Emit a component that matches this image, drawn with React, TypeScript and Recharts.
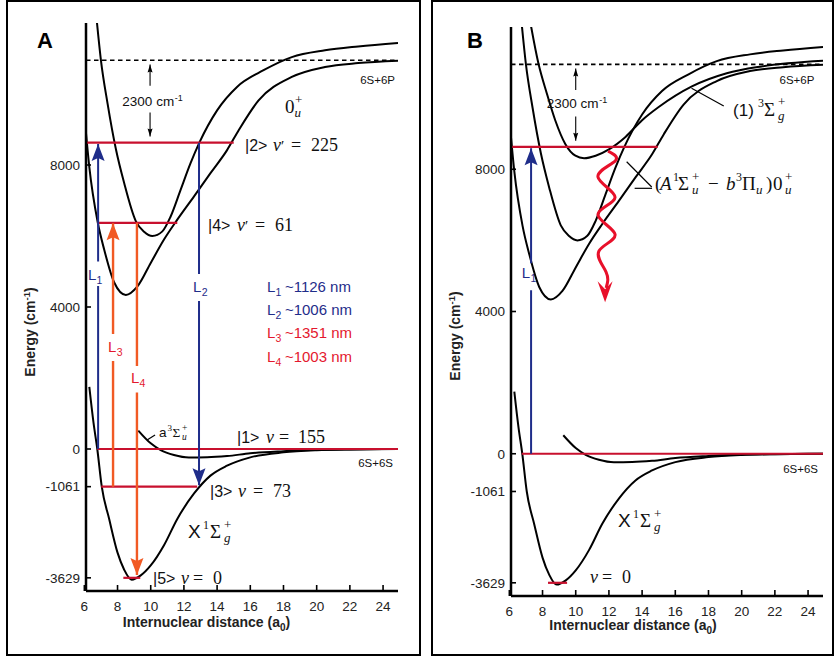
import React from 'react';
import { LineChart, Line, XAxis, YAxis, ReferenceDot, ReferenceLine } from 'recharts';

const SANS = "'Liberation Sans', Arial, Helvetica, sans-serif";
const SERIF = "'Liberation Serif', 'Times New Roman', serif";
const BLUE = '#1f2d8a';
const ORANGE = '#f15a24';
const CRIMSON = '#c8102e';
const RED = '#e4182e';
const WAVE = '#e8102a';

// ---- axes ----
const X_TICKS = [6, 8, 10, 12, 14, 16, 18, 20, 22, 24];
const Y_TICKS = [-3629, -1061, 0, 4000, 8000];
const X_DOMAIN: [number, number] = [6.1, 24.9];
const Y_DOMAIN: [number, number] = [-4000, 12000];

// ---- potential curves [R (a0), E (cm-1)] ----
const X_STATE = [
  [6.3, 1750], [6.55, 750], [6.78, 0], [7.05, -1061], [7.5, -1980], [8.0, -2920], [8.4, -3400],
  [8.85, -3680], [9.4, -3560], [10.0, -3280], [10.8, -2710], [11.6, -1970], [12.6, -1260],
  [13.6, -750], [14.6, -470], [16.0, -235], [18.0, -95], [20.0, -35], [22.0, -12], [24.9, 0],
];
const A3_STATE = [
  [9.25, 520], [10.0, 160], [10.6, -30], [11.4, -170], [12.3, -240], [13.4, -235], [14.6, -200],
  [16.0, -120], [18.0, -60], [20.0, -20], [24.9, 0],
];
const OU_LOWER = [
  [6.1, 8900], [6.3, 7940], [6.8, 6400], [7.2, 5610], [7.8, 4690], [8.5, 4340], [9.2, 4580],
  [10.0, 5240], [10.8, 5900], [11.6, 6460], [12.6, 7110], [13.6, 7770], [14.6, 8420], [15.3, 8980],
  [16.5, 9820], [18.5, 10480], [20.5, 10760], [22.5, 10870], [24.9, 10935],
];
const OU_UPPER = [
  [6.7, 12300], [7.0, 10950], [7.4, 9730], [7.9, 8450], [8.4, 7490], [9.1, 6420], [9.6, 6120],
  [10.1, 6000], [10.7, 6130], [11.2, 6550], [11.8, 7300], [12.4, 8050], [12.93, 8630], [14.0, 9540],
  [15.2, 10200], [16.8, 10670], [18.5, 11040], [20.5, 11230], [22.5, 11340], [24.9, 11440],
];
const SIGMA_G = [
  [7.2, 12300], [7.75, 10980], [8.26, 10130], [8.77, 9370], [9.37, 8710], [9.98, 8380], [10.5, 8310],
  [11.2, 8380], [12.0, 8560], [13.0, 8910], [14.0, 9380], [15.0, 9750], [17.0, 10330], [19.1, 10700],
  [21.2, 10890], [24.9, 11050],
];
const ASYMPTOTE_6P = 10950;

// ---- vibrational levels [R start, R end, E] ----
const LEVELS_A = [[6.15, 15.0, 8630], [6.78, 11.6, 6370], [6.78, 24.9, 0], [7.02, 12.8, -1061], [8.35, 9.37, -3629]];
const LEVELS_B = [[6.16, 14.94, 8630], [6.75, 24.9, 0], [8.33, 9.48, -3629]];

// ---- transitions: R, E from, E to, label gap ----
const ARROWS_A = [
  { id: 'L1', r: 6.83, from: 0, to: 8590, gap: [4590, 5280] },
  { id: 'L3', r: 7.73, from: -1061, to: 6360, gap: [2480, 3240] },
  { id: 'L4', r: 9.17, from: 6370, to: -3550, gap: [1590, 2340] },
  { id: 'L2', r: 12.91, from: 8630, to: -1020, gap: [4170, 4930] },
];
const ARROWS_B = [{ id: 'L1', r: 7.31, from: 0, to: 8590, gap: [4600, 5360] }];
const GAP_ARROWS_A = [{ r: 9.96, from: 10230, to: 10830 }, { r: 9.96, from: 9480, to: 8800 }];
const GAP_ARROWS_B = [{ r: 10.0, from: 10230, to: 10830 }, { r: 10.0, from: 9480, to: 8800 }];
const DECAY_WAVE = [
  [11.95, 8510], [12.37, 8230], [11.34, 7780], [12.37, 7210], [11.34, 6730], [12.37, 6170],
  [11.4, 5700], [11.83, 5110], [11.83, 4660], [11.77, 4260],
];
const LEADER_A3 = [[10.26, 394], [9.78, 254]];
const LEADER_SIGMA = [[18.92, 9778], [16.98, 10276]];
const LEADER_OU = [[13.07, 8212], [14.58, 7500]];
const LEADER_OU_BAR = [[13.55, 7464], [14.6, 7464]];

const LEGEND = [
  { n: '1', text: '~1126 nm', kind: 'blue' },
  { n: '2', text: '~1006 nm', kind: 'blue' },
  { n: '3', text: '~1351 nm', kind: 'red' },
  { n: '4', text: '~1003 nm', kind: 'red' },
];
const LEGEND_E = [4423, 3775, 3127, 2451];

const toPts = (a: number[][]) => a.map(([r, e]) => ({ r, e }));

type Piece = { t: string; x: number; y?: number; s: number; f?: string; i?: boolean; c?: string; a?: string };

const Rich = ({ cx, cy, pieces, color }: any) => (
  <g>
    {pieces.map((p: Piece, k: number) => (
      <text
        key={k}
        x={cx + p.x}
        y={cy + (p.y || 0)}
        fontSize={p.s}
        fontFamily={p.f === 'serif' ? SERIF : SANS}
        fontStyle={p.i ? 'italic' : 'normal'}
        fill={p.c || color || '#111'}
        textAnchor={(p.a as any) || 'start'}
      >
        {p.t}
      </text>
    ))}
  </g>
);

const note = (key: string, r: number, e: number, pieces: Piece[], color?: string) => (
  <ReferenceDot
    key={key}
    x={r}
    y={e}
    r={0}
    ifOverflow="visible"
    shape={(p: any) => <Rich cx={p.cx} cy={p.cy} pieces={pieces} color={color} />}
  />
);

const Head = ({ cx, cy, up, color, w, l, notch }: any) => {
  const s = up ? 1 : -1;
  return (
    <path
      d={`M${cx},${cy}L${cx - w / 2},${cy + s * l}L${cx},${cy + s * (l - notch)}L${cx + w / 2},${cy + s * l}Z`}
      fill={color}
      stroke="none"
    />
  );
};

// arrowhead drawn at a data point (tip), pointing up or down
const headAt = (key: string, rr: number, e: number, up: boolean, color: string, w: number, l: number, notch: number) => (
  <ReferenceDot
    key={key}
    x={rr}
    y={e}
    r={0}
    ifOverflow="visible"
    shape={(p: any) => <Head cx={p.cx} cy={p.cy} up={up} color={color} w={w} l={l} notch={notch} />}
  />
);

const ket = (n: string, prime: boolean, val: string, o: number[]): Piece[] => {
  const out: Piece[] = [
    { t: `|${n}>`, x: 0, s: 16 },
    { t: 'v', x: o[0], s: 18, f: 'serif', i: true },
  ];
  if (prime) out.push({ t: '\u2032', x: o[0] + 8, s: 15, f: 'serif' });
  out.push({ t: '=', x: o[1], s: 18, f: 'serif' });
  out.push({ t: val, x: o[2], s: 18, f: 'serif' });
  return out;
};

const lLabel = (n: string): Piece[] => [
  { t: 'L', x: 0, s: 15 },
  { t: n, x: 8.6, y: 4, s: 10.5 },
];

const arrowPts = (a: { r: number; from: number; to: number; gap?: number[] }) => {
  const up = a.to > a.from;
  const pts: any[] = [{ r: a.r, e: a.from }];
  if (a.gap) {
    const [lo, hi] = a.gap;
    pts.push({ r: a.r, e: up ? lo : hi }, { r: a.r, e: null }, { r: a.r, e: up ? hi : lo });
  }
  pts.push({ r: a.r, e: a.to });
  return pts;
};

const AXIS = { stroke: '#000', strokeWidth: 2.5 };
const TICKLINE = { stroke: '#000', strokeWidth: 1.6 };
const TICK = { fill: '#222', fontSize: 13.5, fontFamily: SANS };

const curve = (key: string, pts: number[][]) => (
  <Line key={key} data={toPts(pts)} dataKey="e" type="monotoneX" stroke="#000" strokeWidth={2}
    dot={false} activeDot={false} isAnimationActive={false} />
);
const thin = (key: string, pts: number[][], w = 1.2) => (
  <Line key={key} data={toPts(pts)} dataKey="e" type="linear" stroke="#000" strokeWidth={w}
    dot={false} activeDot={false} isAnimationActive={false} />
);
const level = (key: string, lv: number[]) => (
  <Line key={key} data={[{ r: lv[0], e: lv[2] }, { r: lv[1], e: lv[2] }]} dataKey="e" type="linear"
    stroke={CRIMSON} strokeWidth={2.2} dot={false} activeDot={false} isAnimationActive={false} />
);
const arrowShaft = (key: string, a: any, color: string, width: number) => (
  <Line key={key} data={arrowPts(a)} dataKey="e" type="linear" stroke={color} strokeWidth={width}
    connectNulls={false} dot={false} activeDot={false} isAnimationActive={false} />
);

function Panel({ variant }: { variant: 'A' | 'B' }) {
  const isA = variant === 'A';
  const width = isA ? 420 : 410;
  const margin = isA
    ? { top: 23, right: 22, bottom: 37, left: 26 }
    : { top: 27, right: 12, bottom: 32, left: 26 };
  const levels = isA ? LEVELS_A : LEVELS_B;
  const arrows = isA ? ARROWS_A : ARROWS_B;
  const gapArrows = isA ? GAP_ARROWS_A : GAP_ARROWS_B;
  const isBlue = (id: string) => id === 'L1' || id === 'L2';

  const labelPosA: Record<string, number[]> = { L1: [6.22, 4761], L2: [12.55, 4423], L3: [7.43, 2732], L4: [8.81, 1859] };
  const labelPosB: Record<string, number[]> = { L1: [6.75, 4942] };
  const labelPos = isA ? labelPosA : labelPosB;
  const waveEnd = DECAY_WAVE[DECAY_WAVE.length - 1];

  return (
    <LineChart width={width} height={658} margin={margin}>
      <XAxis dataKey="r" type="number" domain={X_DOMAIN} ticks={X_TICKS} allowDataOverflow interval={0}
        height={30} tickSize={-6} tickMargin={16} axisLine={AXIS} tickLine={TICKLINE} tick={TICK} />
      <XAxis xAxisId="top" orientation="top" dataKey="r" type="number" domain={X_DOMAIN} ticks={X_TICKS}
        allowDataOverflow interval={0} height={0} tickSize={-6} tickFormatter={() => ''} axisLine={AXIS}
        tickLine={TICKLINE} />
      <YAxis type="number" domain={Y_DOMAIN} ticks={Y_TICKS} allowDataOverflow interval={0} width={60}
        tickSize={-5} tickMargin={11} axisLine={AXIS} tickLine={TICKLINE} tick={TICK} />
      <YAxis yAxisId="right" orientation="right" type="number" domain={Y_DOMAIN} ticks={Y_TICKS}
        allowDataOverflow interval={0} width={0} tickSize={-5} tickFormatter={() => ''} axisLine={AXIS}
        tickLine={TICKLINE} />

      <ReferenceLine y={ASYMPTOTE_6P} stroke="#000" strokeWidth={1.6} strokeDasharray="4.5 3.5" />

      {curve('x', X_STATE)}
      {curve('a3', A3_STATE)}
      {curve('ou1', OU_LOWER)}
      {curve('ou2', OU_UPPER)}
      {!isA && curve('sg', SIGMA_G)}

      {levels.map((lv, i) => level(`lv${i}`, lv))}

      {arrows.map((a) => arrowShaft(`ar${a.id}`, a, isBlue(a.id) ? BLUE : ORANGE, isBlue(a.id) ? 2 : 2.4))}
      {gapArrows.map((a, i) => arrowShaft(`g${i}`, a, '#000', 1.1))}

      {isA && thin('lda', LEADER_A3)}
      {!isA && thin('lds', LEADER_SIGMA)}
      {!isA && thin('ldo', LEADER_OU)}
      {!isA && thin('ldb', LEADER_OU_BAR)}

      {!isA && (
        <Line key="wave" data={toPts(DECAY_WAVE.slice(0, DECAY_WAVE.length - 1))} dataKey="e" type="natural"
          stroke={WAVE} strokeWidth={3} dot={false} activeDot={false} isAnimationActive={false} />
      )}

      {arrows.map((a) => headAt(`hd${a.id}`, a.r, a.to, a.to > a.from, isBlue(a.id) ? BLUE : ORANGE, 13, 17, 3))}
      {gapArrows.map((a, i) => headAt(`hg${i}`, a.r, a.to, a.to > a.from, '#000', 5, 8, 1))}
      {!isA && headAt('hw', waveEnd[0], waveEnd[1], false, WAVE, 15, 21, 8)}

      {arrows.map((a) => note(`lab${a.id}`, labelPos[a.id][0], labelPos[a.id][1], lLabel(a.id.slice(1)), isBlue(a.id) ? BLUE : RED))}

      {note('n2300', isA ? 8.29 : 8.25, isA ? 9648 : 9722, [
        { t: '2300 cm', x: 0, s: 13.5 },
        { t: '-1', x: 52.5, y: -5.5, s: 9 },
      ])}
      {note('n6p', isA ? 24.72 : 24.38, isA ? 10280 : 10397, [{ t: '6S+6P', x: 0, s: 11.5, a: 'end' }])}
      {note('n6s', 24.6, isA ? -507 : -541, [{ t: '6S+6S', x: 0, s: 11.5, a: 'end' }])}
      {note('nX', isA ? 12.25 : 12.55, isA ? -2510 : -2060, [
        { t: 'X', x: 0, s: 19 },
        { t: '1', x: 15, y: -9, s: 12, f: 'serif' },
        { t: '\u03A3', x: 22, s: 19, f: 'serif' },
        { t: '+', x: 36, y: -9, s: 13, f: 'serif' },
        { t: 'g', x: 36, y: 4, s: 13, f: 'serif', i: true },
      ])}

      {isA && note('k2', 15.68, 8390, ket('2', true, '225', [28, 46, 66]))}
      {isA && note('k4', 13.45, 6140, ket('4', true, '61', [29, 47, 67]))}
      {isA && note('k1', 15.2, 170, ket('1', false, '155', [29, 42, 61]))}
      {isA && note('k3', 13.57, -1350, ket('3', false, '73', [28, 43, 63]))}
      {isA && note('k5', 10.14, -3800, ket('5', false, '0', [28, 40, 60]))}
      {!isA && note('v0', 10.86, -3634, [
        { t: 'v', x: 0, s: 18, f: 'serif', i: true },
        { t: '=', x: 12, s: 18, f: 'serif' },
        { t: '0', x: 32, s: 18, f: 'serif' },
      ])}
      {isA && note('ou', 18.09, 9465, [
        { t: '0', x: 0, s: 19, f: 'serif' },
        { t: '+', x: 10, y: -9, s: 13, f: 'serif' },
        { t: 'u', x: 9.5, y: 4, s: 13, f: 'serif', i: true },
      ])}
      {isA && note('a3', 10.5, 340, [
        { t: 'a', x: 0, s: 13.5 },
        { t: '3', x: 8.5, y: -6, s: 9, f: 'serif' },
        { t: '\u03A3', x: 13.5, s: 13.5, f: 'serif' },
        { t: '+', x: 23, y: -6, s: 9.5, f: 'serif' },
        { t: 'u', x: 23, y: 3, s: 9.5, f: 'serif', i: true },
      ])}
      {isA && LEGEND.map((g, i) =>
        note(`lg${i}`, 17.0, LEGEND_E[i], [...lLabel(g.n), { t: g.text, x: 18, s: 15 }], g.kind === 'blue' ? BLUE : RED))}

      {!isA && note('sg', 19.48, 9497, [
        { t: '(1)', x: 0, s: 17 },
        { t: '3', x: 25, y: -9, s: 12, f: 'serif' },
        { t: '\u03A3', x: 31, s: 19, f: 'serif' },
        { t: '+', x: 45, y: -10, s: 13, f: 'serif' },
        { t: 'g', x: 45, y: 4, s: 13, f: 'serif', i: true },
      ])}
      {!isA && note('ab', 14.78, 7416, [
        { t: '(', x: 0, s: 19, f: 'serif' },
        { t: 'A', x: 5, s: 19, f: 'serif', i: true },
        { t: '1', x: 18, y: -9, s: 12, f: 'serif' },
        { t: '\u03A3', x: 23, s: 19, f: 'serif' },
        { t: '+', x: 37, y: -9, s: 13, f: 'serif' },
        { t: 'u', x: 37, y: 4, s: 13, f: 'serif', i: true },
        { t: '\u2212', x: 53, s: 19, f: 'serif' },
        { t: 'b', x: 71, s: 19, f: 'serif', i: true },
        { t: '3', x: 81, y: -9, s: 12, f: 'serif' },
        { t: '\u03A0', x: 87, s: 19, f: 'serif' },
        { t: 'u', x: 101, y: 4, s: 13, f: 'serif', i: true },
        { t: ')', x: 111, s: 19, f: 'serif' },
        { t: '0', x: 118, s: 19, f: 'serif' },
        { t: '+', x: 130, y: -9, s: 13, f: 'serif' },
        { t: 'u', x: 130, y: 4, s: 13, f: 'serif', i: true },
      ])}
    </LineChart>
  );
}

export default function App() {
  return (
    <div style={{ position: 'absolute', left: 0, top: 0, width: 835, height: 658, background: '#fff', overflow: 'hidden' }}>
      <div style={{ position: 'absolute', left: 0, top: 0 }}>
        <Panel variant="A" />
      </div>
      <div style={{ position: 'absolute', left: 425, top: 0 }}>
        <Panel variant="B" />
      </div>
      <svg width={835} height={658} style={{ position: 'absolute', left: 0, top: 0, pointerEvents: 'none' }}>
        <rect x={7} y={1} width={413} height={654} fill="none" stroke="#000" strokeWidth={2} />
        <rect x={432} y={1} width={401} height={654} fill="none" stroke="#000" strokeWidth={2} />
        <text x={37} y={48} fontFamily={SANS} fontWeight="bold" fontSize={22} fill="#000">A</text>
        <text x={467} y={48} fontFamily={SANS} fontWeight="bold" fontSize={22} fill="#000">B</text>
        {[{ cx: 206.5, by: 627 }, { cx: 633, by: 630 }].map((p, i) => (
          <text key={`xt${i}`} x={p.cx} y={p.by} textAnchor="middle" fontFamily={SANS} fontWeight="bold" fontSize={14} fill="#222">
            Internuclear distance (a<tspan fontSize={10} dy={4}>0</tspan><tspan dy={-4}>)</tspan>
          </text>
        ))}
        {[{ x: 35, cy: 332 }, { x: 460, cy: 336 }].map((p, i) => (
          <text key={`yt${i}`} transform="rotate(-90)" x={-p.cy} y={p.x} textAnchor="middle" fontFamily={SANS} fontWeight="bold" fontSize={14} fill="#222">
            Energy (cm<tspan fontSize={9.5} dy={-5}>-1</tspan><tspan dy={5}>)</tspan>
          </text>
        ))}
      </svg>
    </div>
  );
}
